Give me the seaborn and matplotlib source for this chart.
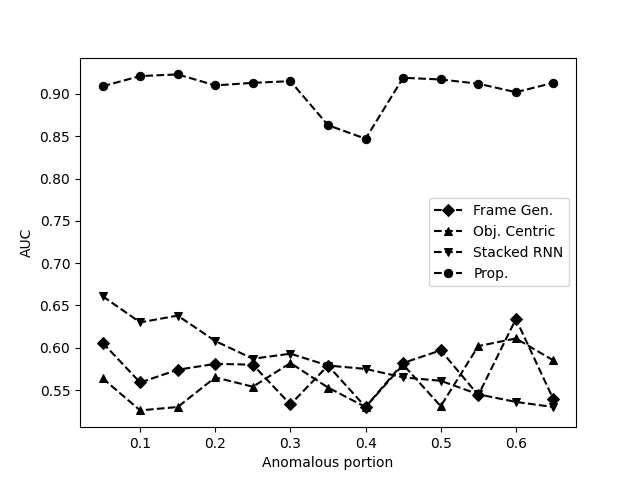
import numpy as np
import seaborn as sns
import matplotlib.pyplot as plt

portion = [0.05, 0.1, 0.15, 0.2, 0.25, 0.3, 0.35, 0.4, 0.45, 0.5, 0.55, 0.6, 0.65]

frame_gen = [0.606, 0.559, 0.574, 0.581, 0.580, 0.533, 0.579, 0.530, 0.582, 0.597, 0.544, 0.634, 0.539]
obj_centric = [0.564, 0.526, 0.530, 0.565, 0.554, 0.582, 0.553, 0.530, 0.580, 0.531, 0.602, 0.611, 0.585]
stacked_rnn = [0.661, 0.630, 0.638, 0.608, 0.587, 0.593, 0.579, 0.575, 0.565, 0.561, 0.545, 0.536, 0.530]
prop = [0.909, 0.921, 0.923, 0.910, 0.913, 0.915, 0.863, 0.847, 0.919, 0.917, 0.912, 0.902, 0.913]

fig, ax = plt.subplots(figsize=(6.4, 4.8), dpi=100)

series = [('Frame Gen.', frame_gen, 'D'),
          ('Obj. Centric', obj_centric, '^'),
          ('Stacked RNN', stacked_rnn, 'v'),
          ('Prop.', prop, 'o')]

for name, vals, mk in series:
    sns.lineplot(x=portion, y=vals, ax=ax, color='black', linestyle='--',
                 marker=mk, markersize=6, markeredgecolor='black', label=name)

ax.set_xlabel('Anomalous portion')
ax.set_ylabel('AUC')
ax.legend(loc='center right')
plt.savefig('out.png')
